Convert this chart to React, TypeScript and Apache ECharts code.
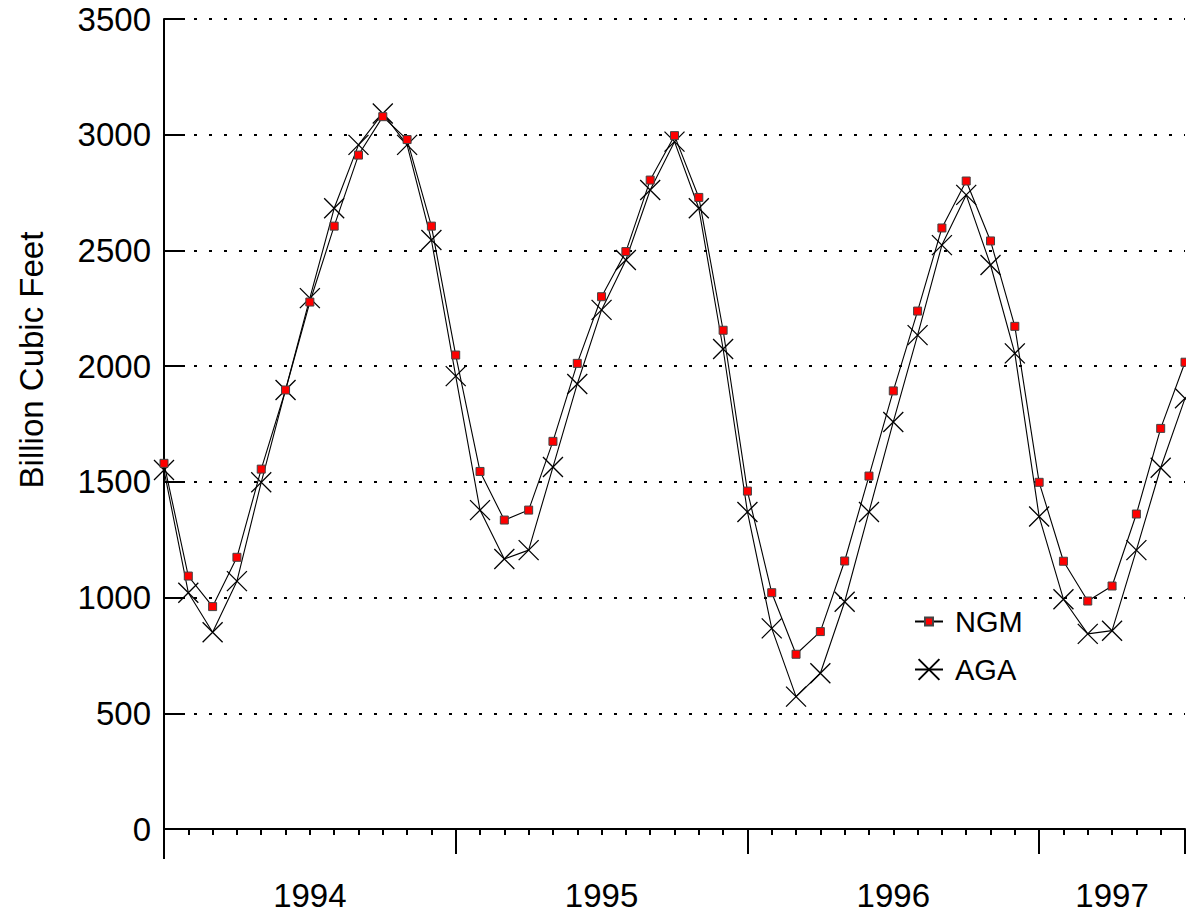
import React, { useEffect, useRef } from "react";
import * as echarts from "echarts";

const ngm = [1580, 1093, 961, 1174, 1555, 1897, 2277, 2605, 2912, 3078, 2979, 2605, 2048, 1545, 1335, 1378, 1675, 2012, 2300, 2495, 2804, 2996, 2729, 2155, 1460, 1021, 755, 853, 1158, 1525, 1893, 2238, 2597, 2800, 2541, 2172, 1498, 1157, 985, 1050, 1361, 1731, 2017];
const aga = [1551, 1021, 850, 1071, 1498, 1897, 2294, 2682, 2956, 3092, 2956, 2545, 1957, 1378, 1167, 1205, 1564, 1923, 2243, 2459, 2761, 2970, 2682, 2074, 1370, 867, 572, 673, 982, 1370, 1759, 2134, 2523, 2740, 2437, 2055, 1350, 993, 843, 857, 1205, 1561, 1861];
const yearLabels = ["1994", "1995", "1996", "1997"];
const yearLabelMonths = [6, 18, 30, 39];
const majorTickMonths = [12, 24, 36, 42];
const lastMonth = 42;

const FONT = "'Liberation Sans', Arial, Helvetica, sans-serif";

export default function App() {
  const ref = useRef<HTMLDivElement>(null);
  useEffect(() => {
    if (!ref.current) return;
    const chart = echarts.init(ref.current, null, { renderer: "svg" });
    const minorTicks: number[] = [];
    for (let m = 1; m < lastMonth; m++) if (majorTickMonths.indexOf(m) < 0) minorTicks.push(m);
    const baseX = {
      type: "value",
      min: 0,
      max: lastMonth,
      position: "bottom",
      splitLine: { show: false },
      axisLabel: { show: false },
      axisLine: { show: false },
    };
    const option: any = {
      animation: false,
      backgroundColor: "#fff",
      grid: { left: 164, right: 1, top: 19, bottom: 86, containLabel: false },
      xAxis: [
        {
          ...baseX,
          axisLine: { show: true, onZero: false, lineStyle: { color: "#000", width: 2 } },
          axisTick: { show: true, customValues: minorTicks, length: 6, lineStyle: { color: "#000", width: 2 } },
        },
        {
          ...baseX,
          axisTick: { show: true, customValues: majorTickMonths, length: 25, lineStyle: { color: "#000", width: 2 } },
        },
        {
          ...baseX,
          axisTick: { show: true, customValues: [0], length: 30, lineStyle: { color: "#000", width: 2 } },
        },
        {
          ...baseX,
          axisTick: { show: false },
          axisLabel: {
            show: true,
            customValues: yearLabelMonths,
            margin: 50,
            color: "#000",
            fontSize: 33,
            fontFamily: FONT,
            formatter: (v: number) => {
              const i = yearLabelMonths.indexOf(Math.round(v));
              return i >= 0 ? yearLabels[i] : "";
            },
          },
        },
      ],
      yAxis: {
        type: "value",
        min: 0,
        max: 3500,
        interval: 500,
        axisLine: { show: true, lineStyle: { color: "#000", width: 2 } },
        axisTick: { show: true, inside: true, length: 21, lineStyle: { color: "#000", width: 2 } },
        axisLabel: {
          color: "#000",
          fontSize: 33,
          fontFamily: FONT,
          margin: 13,
          formatter: (v: number) => String(v),
        },
        splitLine: { show: true, lineStyle: { color: "#000", width: 2, type: [3, 12] } },
      },
      legend: [
        {
          data: ["NGM"],
          orient: "vertical",
          left: 914,
          top: 607,
          padding: 0,
          itemWidth: 28,
          itemHeight: 10,
          lineStyle: { width: 2 },
          textStyle: { color: "#000", fontSize: 29, fontFamily: FONT, padding: [0, 0, 0, 7] },
          selectedMode: false,
        },
        {
          data: ["AGA"],
          orient: "vertical",
          left: 914,
          top: 655,
          padding: 0,
          itemWidth: 28,
          itemHeight: 26,
          lineStyle: { width: 2 },
          textStyle: { color: "#000", fontSize: 29, fontFamily: FONT, padding: [0, 0, 0, 7] },
          selectedMode: false,
        },
      ],
      graphic: [
        {
          type: "text",
          x: 31,
          y: 360,
          rotation: Math.PI / 2,
          style: {
            text: "Billion Cubic Feet",
            fill: "#000",
            fontSize: 33,
            fontFamily: FONT,
            align: "center",
            verticalAlign: "middle",
          },
        },
      ],
      series: [
        {
          name: "AGA",
          type: "line",
          xAxisIndex: 0,
          data: aga.map((v, i) => [i, v]),
          symbol: "path://M0,0L20,20M20,0L0,20",
          symbolSize: 20,
          showAllSymbol: true,
          clip: false,
          silent: true,
          lineStyle: { color: "#000", width: 1.1 },
          itemStyle: { color: "none", borderColor: "#000", borderWidth: 1.3 },
          emphasis: { disabled: true },
        },
        {
          name: "NGM",
          type: "line",
          xAxisIndex: 0,
          data: ngm.map((v, i) => [i, v]),
          symbol: "rect",
          symbolSize: 8,
          showAllSymbol: true,
          clip: false,
          silent: true,
          lineStyle: { color: "#000", width: 1.1 },
          itemStyle: { color: "#ff0000", borderColor: "#444", borderWidth: 1 },
          emphasis: { disabled: true },
        },
      ],
    };
    chart.setOption(option);
    return () => chart.dispose();
  }, []);
  return (
    <div
      ref={ref}
      style={{ position: "fixed", left: 0, top: 0, width: 1186, height: 915, background: "#fff" }}
    />
  );
}
